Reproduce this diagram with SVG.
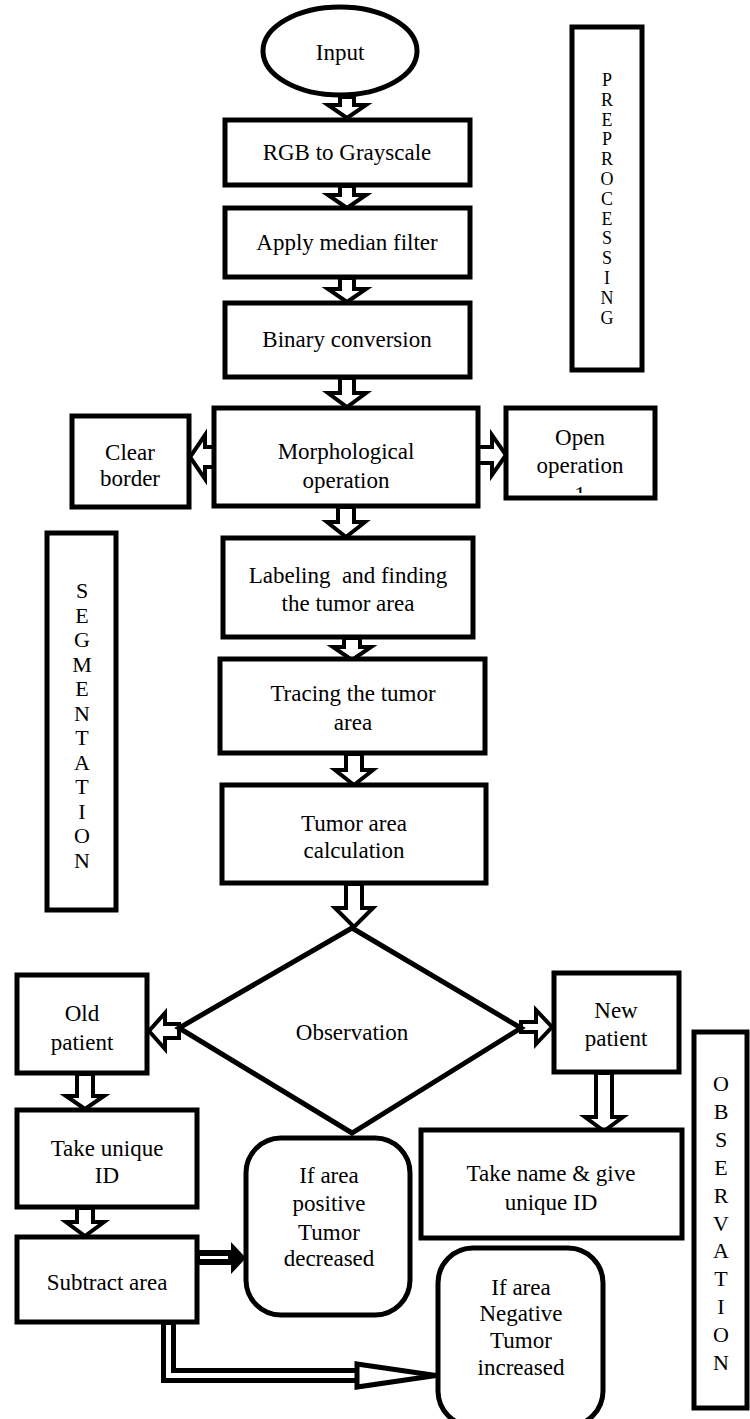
<svg xmlns="http://www.w3.org/2000/svg" width="750" height="1419" viewBox="0 0 750 1419">
<style>
.box{fill:#fff;stroke:#000;stroke-width:5}
.arr{fill:#fff;stroke:#000;stroke-width:4;stroke-linejoin:miter}
.t{font-family:'Liberation Serif','Tinos','DejaVu Serif',serif;font-size:23px;text-anchor:middle;fill:#000}
.v{font-family:'Liberation Serif','Tinos','DejaVu Serif',serif;text-anchor:middle;fill:#000}
</style>
<defs>
<clipPath id="clipOpen"><rect x="508" y="410" width="145" height="83"/></clipPath>
</defs>
<rect width="750" height="1419" fill="#fff"/>

<g id="connectors">
<polygon class="arr" points="340,97 354,97 354,105 366,105 347,118 328,105 340,105"/>
<polygon class="arr" points="340,186 354,186 354,195 366,195 347,208 328,195 340,195"/>
<polygon class="arr" points="340,278 354,278 354,289 366,289 347,302 328,289 340,289"/>
<polygon class="arr" points="340,378 354,378 354,393 366,393 347,407 328,393 340,393"/>
<polygon class="arr" points="216,447 205,447 205,435 190,457 205,479 205,467 216,467"/>
<polygon class="arr" points="477,447 492,447 492,435 506,455 492,475 492,463 477,463"/>
<polygon class="arr" points="338,507 354,507 354,522 365,522 346,537 327,522 338,522"/>
<polygon class="arr" points="344,638 360,638 360,647 371,647 352,660 333,647 344,647"/>
<polygon class="arr" points="346,754 362,754 362,770 373,770 354,785 335,770 346,770"/>
<polygon class="arr" points="346,884 362,884 362,908 373,908 354,927 335,908 346,908"/>
<polygon class="arr" points="179,1024 165,1024 165,1013 149,1031 165,1049 165,1038 179,1038"/>
<polygon class="arr" points="521,1022 536,1022 536,1010 552,1027 536,1044 536,1032 521,1032"/>
<polygon class="arr" points="77,1074 93,1074 93,1096 104,1096 85,1109 66,1096 77,1096"/>
<polygon class="arr" points="77,1208 93,1208 93,1222 104,1222 85,1236 66,1222 77,1222"/>
<polygon class="arr" points="596,1073 612,1073 612,1117 623,1117 604,1131 585,1117 596,1117"/>
<polygon points="197,1250 231,1250 231,1242 246,1258 231,1274 231,1265 197,1265" fill="#000"/>
<line x1="200" y1="1257.5" x2="228" y2="1257.5" stroke="#fff" stroke-width="3"/>
<path d="M168.5,1323 V1375.5 H360" fill="none" stroke="#000" stroke-width="15"/>
<path d="M168.5,1325 V1375.5 H362" fill="none" stroke="#fff" stroke-width="5"/>
<polygon points="357,1364 436,1375.5 357,1387" fill="#fff" stroke="#000" stroke-width="5"/>
</g>

<g id="input">
<ellipse class="box" cx="340" cy="51" rx="77" ry="44"/>
<text class="t" x="340" y="60" font-size="24">Input</text>
</g>
<g id="rgb">
<rect class="box" x="225" y="120" width="245" height="65"/>
<text class="t" x="347" y="160">RGB to Grayscale</text>
</g>
<g id="median">
<rect class="box" x="225" y="208" width="245" height="69"/>
<text class="t" x="347" y="250">Apply median filter</text>
</g>
<g id="binary">
<rect class="box" x="225" y="303" width="245" height="74"/>
<text class="t" x="347" y="347">Binary conversion</text>
</g>
<g id="morph">
<rect class="box" x="214" y="408" width="264" height="98"/>
<text class="t" x="346" y="459" font-size="26">Morphological</text>
<text class="t" x="346" y="488" font-size="26">operation</text>
</g>
<g id="clear">
<rect class="box" x="72" y="416" width="117" height="91"/>
<text class="t" x="130" y="460">Clear</text>
<text class="t" x="130" y="486">border</text>
</g>
<g id="open">
<rect class="box" x="506" y="408" width="149" height="90"/>
<text class="t" x="580" y="445" font-size="24">Open</text>
<text class="t" x="580" y="473" font-size="24">operation</text>
<text class="t" x="580" y="502" font-size="24" clip-path="url(#clipOpen)">1</text>
</g>
<g id="labeling">
<rect class="box" x="223" y="538" width="250" height="99"/>
<text class="t" x="348" y="583" xml:space="preserve">Labeling  and finding</text>
<text class="t" x="348" y="611">the tumor area</text>
</g>
<g id="tracing">
<rect class="box" x="220" y="659" width="265" height="94"/>
<text class="t" x="353" y="701">Tracing the tumor</text>
<text class="t" x="353" y="730">area</text>
</g>
<g id="calc">
<rect class="box" x="222" y="785" width="264" height="98"/>
<text class="t" x="354" y="831">Tumor area</text>
<text class="t" x="354" y="858">calculation</text>
</g>
<g id="observation">
<polygon class="box" points="352,928 521,1028 352,1133 179,1028"/>
<text class="t" x="352" y="1040" font-size="24">Observation</text>
</g>
<g id="old">
<rect class="box" x="17" y="975" width="130" height="98"/>
<text class="t" x="82" y="1021" font-size="24">Old</text>
<text class="t" x="82" y="1050" font-size="24">patient</text>
</g>
<g id="new">
<rect class="box" x="554" y="973" width="125" height="99"/>
<text class="t" x="616" y="1018" font-size="24">New</text>
<text class="t" x="616" y="1046" font-size="24">patient</text>
</g>
<g id="takeid">
<rect class="box" x="17" y="1110" width="180" height="97"/>
<text class="t" x="107" y="1156">Take unique</text>
<text class="t" x="107" y="1183">ID</text>
</g>
<g id="subtract">
<rect class="box" x="17" y="1237" width="180" height="85"/>
<text class="t" x="107" y="1290">Subtract area</text>
</g>
<g id="takename">
<rect class="box" x="421" y="1130" width="261" height="108"/>
<text class="t" x="551" y="1181" font-size="22">Take name &amp; give</text>
<text class="t" x="551" y="1210" font-size="22">unique ID</text>
</g>
<g id="positive">
<rect class="box" x="246" y="1138" width="164" height="177" rx="35" ry="35"/>
<text class="t" x="329" y="1183" font-size="22">If area</text>
<text class="t" x="329" y="1211" font-size="22">positive</text>
<text class="t" x="329" y="1240" font-size="22">Tumor</text>
<text class="t" x="329" y="1266" font-size="22">decreased</text>
</g>
<g id="negative">
<rect class="box" x="438" y="1248" width="165" height="178" rx="35" ry="35"/>
<text class="t" x="521" y="1295" font-size="22">If area</text>
<text class="t" x="521" y="1321" font-size="22">Negative</text>
<text class="t" x="521" y="1348" font-size="22">Tumor</text>
<text class="t" x="521" y="1375" font-size="22">increased</text>
</g>
<g id="preprocessing">
<rect class="box" x="572" y="27" width="70" height="343"/>
<text class="v" font-size="18" x="607" y="86"><tspan x="607" dy="0">P</tspan><tspan x="607" dy="19.8">R</tspan><tspan x="607" dy="19.8">E</tspan><tspan x="607" dy="19.8">P</tspan><tspan x="607" dy="19.8">R</tspan><tspan x="607" dy="19.8">O</tspan><tspan x="607" dy="19.8">C</tspan><tspan x="607" dy="19.8">E</tspan><tspan x="607" dy="19.8">S</tspan><tspan x="607" dy="19.8">S</tspan><tspan x="607" dy="19.8">I</tspan><tspan x="607" dy="19.8">N</tspan><tspan x="607" dy="19.8">G</tspan></text>
</g>
<g id="segmentation">
<rect class="box" x="47" y="533" width="69" height="377"/>
<text class="v" font-size="22" x="82" y="598"><tspan x="82" dy="0">S</tspan><tspan x="82" dy="24.5">E</tspan><tspan x="82" dy="24.5">G</tspan><tspan x="82" dy="24.5">M</tspan><tspan x="82" dy="24.5">E</tspan><tspan x="82" dy="24.5">N</tspan><tspan x="82" dy="24.5">T</tspan><tspan x="82" dy="24.5">A</tspan><tspan x="82" dy="24.5">T</tspan><tspan x="82" dy="24.5">I</tspan><tspan x="82" dy="24.5">O</tspan><tspan x="82" dy="24.5">N</tspan></text>
</g>
<g id="observation-label">
<rect class="box" x="694" y="1032" width="53" height="376"/>
<text class="v" font-size="22" x="721" y="1091"><tspan x="721" dy="0">O</tspan><tspan x="721" dy="27.9">B</tspan><tspan x="721" dy="27.9">S</tspan><tspan x="721" dy="27.9">E</tspan><tspan x="721" dy="27.9">R</tspan><tspan x="721" dy="27.9">V</tspan><tspan x="721" dy="27.9">A</tspan><tspan x="721" dy="27.9">T</tspan><tspan x="721" dy="27.9">I</tspan><tspan x="721" dy="27.9">O</tspan><tspan x="721" dy="27.9">N</tspan></text>
</g>
</svg>
